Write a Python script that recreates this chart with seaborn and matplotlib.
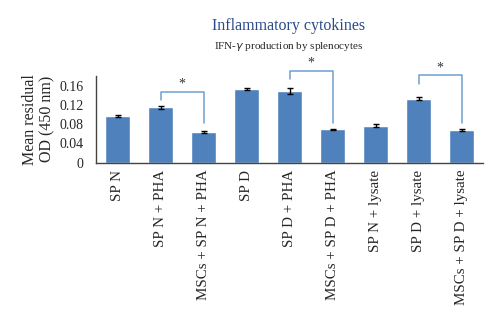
import matplotlib
matplotlib.use("Agg")
import matplotlib.pyplot as plt
import seaborn as sns
import pandas as pd
import numpy as np

categories = ["SP N", "SP N + PHA", "MSCs + SP N + PHA", "SP D", "SP D + PHA",
              "MSCs + SP D + PHA", "SP N + lysate", "SP D + lysate", "MSCs + SP D + lysate"]
values = [0.096, 0.115, 0.063, 0.153, 0.149, 0.069, 0.077, 0.133, 0.067]
errors = [0.002, 0.003, 0.002, 0.002, 0.006, 0.001, 0.003, 0.003, 0.002]
yticks = [0, 0.04, 0.08, 0.12, 0.16]
ytick_labels = ["0", "0.04", "0.08", "0.12", "0.16"]
# significance brackets: (left index, right index, top y, left leg end, right leg end)
brackets = [(1, 2, 0.147, 0.131, 0.083), (4, 5, 0.191, 0.173, 0.082), (7, 8, 0.181, 0.164, 0.082)]

sns.set_style("white")
plt.rcParams['font.family'] = ['Liberation Serif', 'DejaVu Serif']

df = pd.DataFrame({"cat": categories, "val": values})

fig = plt.figure(figsize=(5, 3.23), dpi=100)
ax = fig.add_axes([0.192, 0.496, 0.774, 0.269])
sns.barplot(data=df, x="cat", y="val", color="#4f81bd", saturation=1, width=0.57, ax=ax, errorbar=None)
ax.errorbar(np.arange(len(values)), values, yerr=errors, fmt="none", ecolor="black",
            elinewidth=1, capsize=2, capthick=1)
ax.set_xlim(-0.5, 8.5)
ax.set_ylim(0, 0.18)
ax.set_yticks(yticks)
ax.set_yticklabels(ytick_labels, fontsize=10)
ax.set_xticks(range(len(categories)))
ax.set_xticklabels(categories, rotation=90, fontsize=10.8)
ax.tick_params(axis="x", length=0, pad=5)
ax.tick_params(axis="y", length=0, pad=9)
ax.set_xlabel("")
ax.set_ylabel("Mean residual\nOD (450 nm)", fontsize=11.5, linespacing=1.1, labelpad=3)
for s in ["top", "right"]:
    ax.spines[s].set_visible(False)
for s in ["left", "bottom"]:
    ax.spines[s].set_color("#444444")
    ax.spines[s].set_linewidth(1)

bcol = "#6f9fd0"
for l, r, top, ly, ry in brackets:
    ax.plot([l, l, r, r], [ly, top, top, ry], color=bcol, lw=1.1, clip_on=False)
    ax.text((l + r) / 2, top + 0.002, "*", ha="center", va="bottom", fontsize=10, color="#333333")

fig.text(0.577, 0.92, "Inflammatory cytokines", ha="center", va="center", fontsize=11.5, color="#2b4a8a")
fig.text(0.577, 0.857, "IFN-$\\gamma$ production by splenocytes", ha="center", va="center", fontsize=8)

fig.savefig("out.png", dpi=100)
